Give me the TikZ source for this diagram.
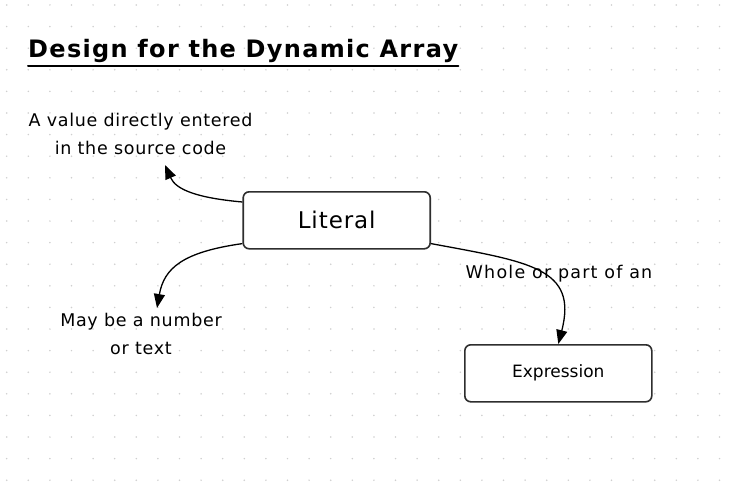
\documentclass[tikz,border=0pt]{standalone}
\usepackage{fontspec}
\setmainfont{DejaVu Sans}
\usetikzlibrary{arrows.meta}
\definecolor{dotc}{HTML}{CFCFCF}
\definecolor{boxc}{HTML}{2E2E2E}
\tikzset{
  box/.style={draw=boxc, line width=1.6pt, rounded corners=6pt, fill=white, inner sep=0pt},
  lbl/.style={font=\fontsize{17.5}{28}\selectfont\addfontfeatures{LetterSpace=4}, align=center, inner sep=0pt},
  arr/.style={draw=black, line width=1.3pt, -{Triangle[length=14pt,width=11pt]}},
}
\begin{document}
\begin{tikzpicture}[x=1pt,y=-1pt]
\fill[white] (0,0) rectangle (739,492);
\useasboundingbox (0,0) rectangle (739,492);
\foreach \i in {0,...,33}{\foreach \j in {0,...,22}{
  \fill[dotc] ({6.7+21.6*\i},{5+21.6*\j}) circle (0.85);
}}
% title
\node[anchor=base west, inner sep=0pt, font=\fontsize{24}{28}\selectfont\bfseries\addfontfeatures{LetterSpace=5.5}] (title) at (28,58) {Design for the Dynamic Array};
\draw[line width=2pt, line cap=round] ([yshift=-8.5pt]title.base west) -- ([yshift=-8.5pt]title.base east);
% boxes
\node[box, minimum width=187pt, minimum height=57pt, font=\fontsize{23}{26}\selectfont\addfontfeatures{LetterSpace=4}] (lit) at (336.7,220.3) {Literal};
\node[box, minimum width=187pt, minimum height=57pt, font=\fontsize{17}{20}\selectfont] (expr) at (558.3,373.3) {Expression};
% labels
\node[lbl] (l1) at (140.5,134) {A value directly entered\\in the source code};
\node[lbl] (l2) at (141,334) {May be a number\\or text};
\node[lbl, font=\fontsize{17.5}{28}\selectfont\addfontfeatures{LetterSpace=7}] (l3) at (559,274) {Whole or part of an};
% arrows
\coordinate (t1) at (165,165);
\coordinate (t2) at (157,308);
\draw[arr] ([yshift=-11pt]lit.north west) .. controls (198,198) and (176,190) .. (t1);
\draw[arr] ([yshift=6pt]lit.south west) .. controls (183,252) and (164,268) .. (t2);
\draw[arr] ([yshift=6pt]lit.south east) .. controls (530,262) and (578,268) .. (expr.north);
\end{tikzpicture}
\end{document}
